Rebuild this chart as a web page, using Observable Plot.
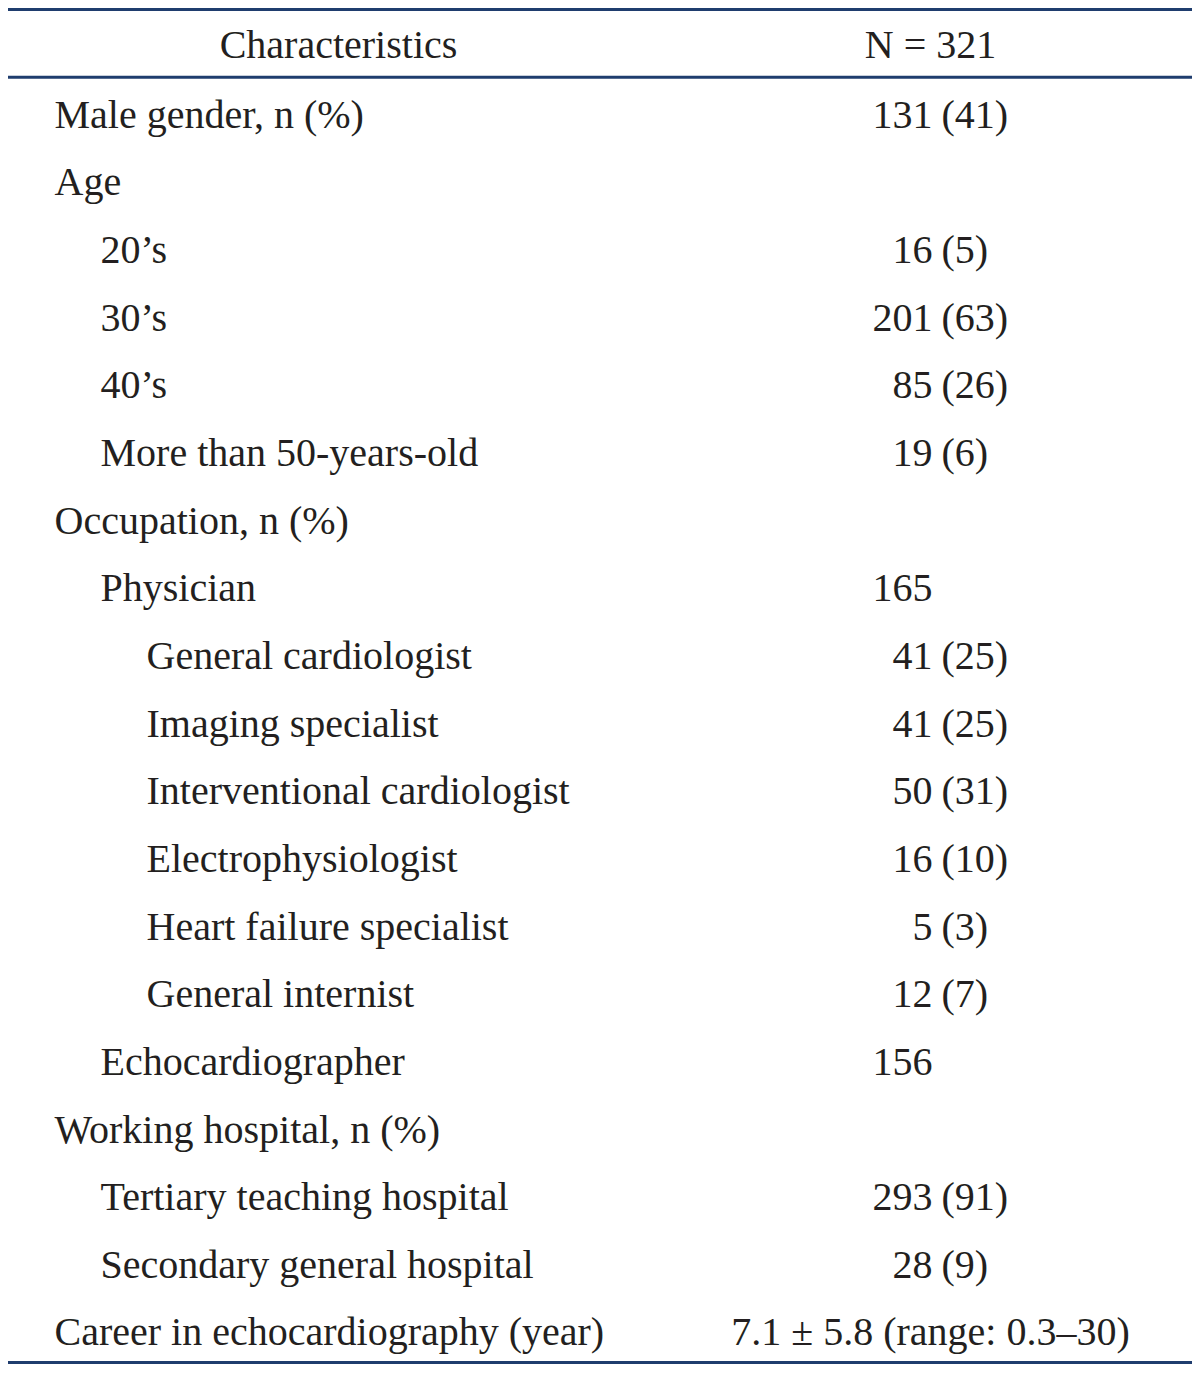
<!DOCTYPE html>
<html>
<head>
<meta charset="utf-8">
<script src="https://cdn.jsdelivr.net/npm/d3@7"></script>
<script src="https://cdn.jsdelivr.net/npm/@observablehq/plot@0.6"></script>
<style>
  html, body { margin: 0; padding: 0; background: #fff; }
  #chart svg { display: block; }
</style>
</head>
<body>
<div id="chart"></div>
<script>
// ---- Table content ----
const headers = ["Characteristics", "N = 321"];
const labels = [
  "Male gender, n (%)",
  "Age",
  "20’s",
  "30’s",
  "40’s",
  "More than 50-years-old",
  "Occupation, n (%)",
  "Physician",
  "General cardiologist",
  "Imaging specialist",
  "Interventional cardiologist",
  "Electrophysiologist",
  "Heart failure specialist",
  "General internist",
  "Echocardiographer",
  "Working hospital, n (%)",
  "Tertiary teaching hospital",
  "Secondary general hospital",
  "Career in echocardiography (year)"
];
const levels = [0, 0, 1, 1, 1, 1, 0, 1, 2, 2, 2, 2, 2, 2, 1, 0, 1, 1, 0];
const counts = ["131", "", "16", "201", "85", "19", "", "165", "41", "41", "50", "16", "5", "12", "156", "", "293", "28", ""];
const percents = ["(41)", "", "(5)", "(63)", "(26)", "(6)", "", "", "(25)", "(25)", "(31)", "(10)", "(3)", "(7)", "", "", "(91)", "(9)", ""];
const summaries = ["", "", "", "", "", "", "", "", "", "", "", "", "", "", "", "", "", "", "7.1 ± 5.8 (range: 0.3–30)"];

// ---- Build table rows ----
const rows = labels.map((label, i) => ({
  row: i + 1,
  label,
  level: levels[i],
  count: counts[i],
  pct: percents[i],
  summary: summaries[i]
}));
const nRows = rows.length + 1; // header + body
const ruleRows = [0, 1, nRows];

const font = "'Liberation Serif', 'Times New Roman', serif";
const ink = "#231f20";
const lineColor = "#1f3d6e";
const fs = 40;

// x positions (pixels) for columns via an identity linear scale
const indentX = lvl => 54 + lvl * 46;
const numRight = 932;
const pctLeft = 941;
const valCenter = 930;
const charCenter = 338;

const chart = Plot.plot({
  width: 1200,
  height: 1373,
  margin: 0,
  x: {type: "linear", domain: [0, 1200], range: [0, 1200], axis: null},
  y: {type: "linear", domain: [0, nRows], range: [9, 1362], axis: null},
  style: {background: "#fff"},
  marks: [
    Plot.ruleY(ruleRows, {y: d => d, x1: 8, x2: 1192, stroke: lineColor, strokeWidth: 3}),
    // header
    Plot.text([headers[0]], {x: charCenter, y: 0.5, text: d => d, textAnchor: "middle", fontSize: fs, fontFamily: font, fill: ink, dy: 2}),
    Plot.text([headers[1]], {x: valCenter, y: 0.5, text: d => d, textAnchor: "middle", fontSize: fs, fontFamily: font, fill: ink, dy: 2}),
    // labels
    Plot.text(rows, {x: d => indentX(d.level), y: d => d.row + 0.5, text: "label", textAnchor: "start", fontSize: fs, fontFamily: font, fill: ink, dy: 4}),
    // counts
    Plot.text(rows.filter(d => d.count), {x: numRight, y: d => d.row + 0.5, text: "count", textAnchor: "end", fontSize: fs, fontFamily: font, fill: ink, dy: 4}),
    // percents
    Plot.text(rows.filter(d => d.pct), {x: pctLeft, y: d => d.row + 0.5, text: "pct", textAnchor: "start", fontSize: fs, fontFamily: font, fill: ink, dy: 4}),
    // summary statistics
    Plot.text(rows.filter(d => d.summary), {x: valCenter, y: d => d.row + 0.5, text: "summary", textAnchor: "middle", fontSize: fs, fontFamily: font, fill: ink, dy: 4})
  ]
});
document.getElementById("chart").appendChild(chart);
</script>
</body>
</html>
